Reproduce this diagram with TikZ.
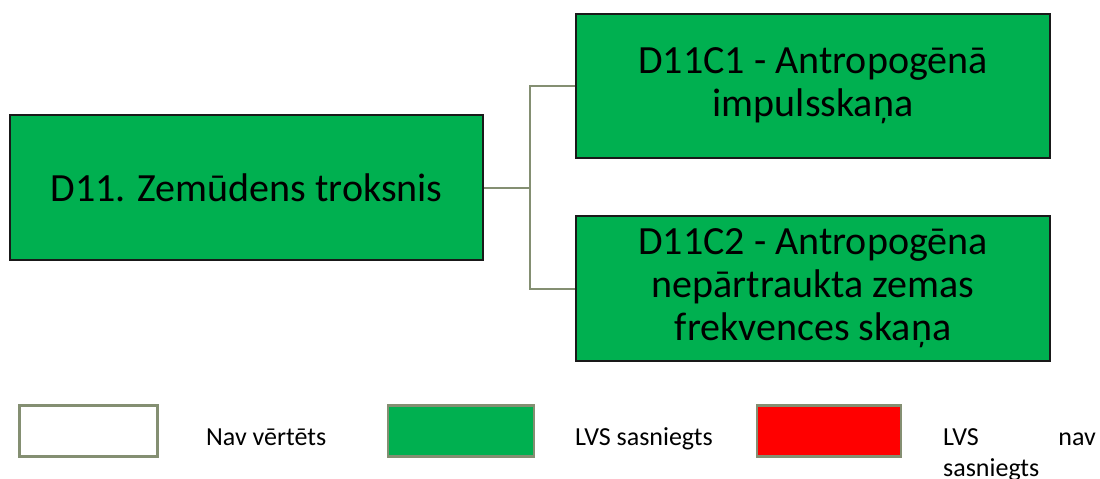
\documentclass[tikz,border=0pt]{standalone}
\usepackage{fontspec}
\setmainfont{Carlito}
\definecolor{boxgreen}{HTML}{00B050}
\definecolor{linegray}{HTML}{848F72}
\definecolor{legred}{HTML}{FF0000}
\tikzset{
  mainbox/.style={draw=black!90, line width=2pt, fill=boxgreen, rectangle, inner sep=0pt, align=center,
    font=\fontsize{40}{43}\selectfont},
  conn/.style={draw=linegray, line width=2pt},
  legbox/.style={draw=linegray, line width=2.5pt, rectangle, inner sep=0pt, minimum height=51pt},
  legtext/.style={anchor=base west, inner sep=0pt, font=\fontsize{26}{30}\selectfont}
}
\begin{document}
\begin{tikzpicture}[x=1pt,y=-1pt]
\useasboundingbox[fill=white] (0,0) rectangle (1100,479);
\node[mainbox, minimum width=473pt, minimum height=145pt] (main) at (246.5,187.5) {D11. Zemūdens troksnis};
\node[mainbox, minimum width=474pt, minimum height=144pt] (b1) at (813,86) {D11C1 - Antropogēnā\\impulsskaņa};
\node[mainbox, minimum width=474pt, minimum height=145pt] (b2) at (813,288.5) {D11C2 - Antropogēna\\nepārtraukta zemas\\frekvences skaņa};
\coordinate (j) at (530,187.5);
\draw[conn] (main.east) -- (j);
\draw[conn] (j) |- (b1.west);
\draw[conn] (j) |- (b2.west);
% legend
\node[legbox, fill=white, minimum width=138pt] (l1) at (88.5,431) {};
\node[legbox, fill=boxgreen, minimum width=146pt] (l2) at (461,431) {};
\node[legbox, fill=legred, minimum width=144pt] (l3) at (829,431) {};
\node[legtext] (t1) at (206,445) {Nav vērtēts};
\node[legtext] (t2) at (575,445) {LVS sasniegts};
\node[legtext] (t3a) at (943,445) {LVS};
\node[legtext, anchor=base east] (t3b) at (1096,445) {nav};
\node[legtext] (t3c) at (943,476) {sasniegts};
\end{tikzpicture}
\end{document}
